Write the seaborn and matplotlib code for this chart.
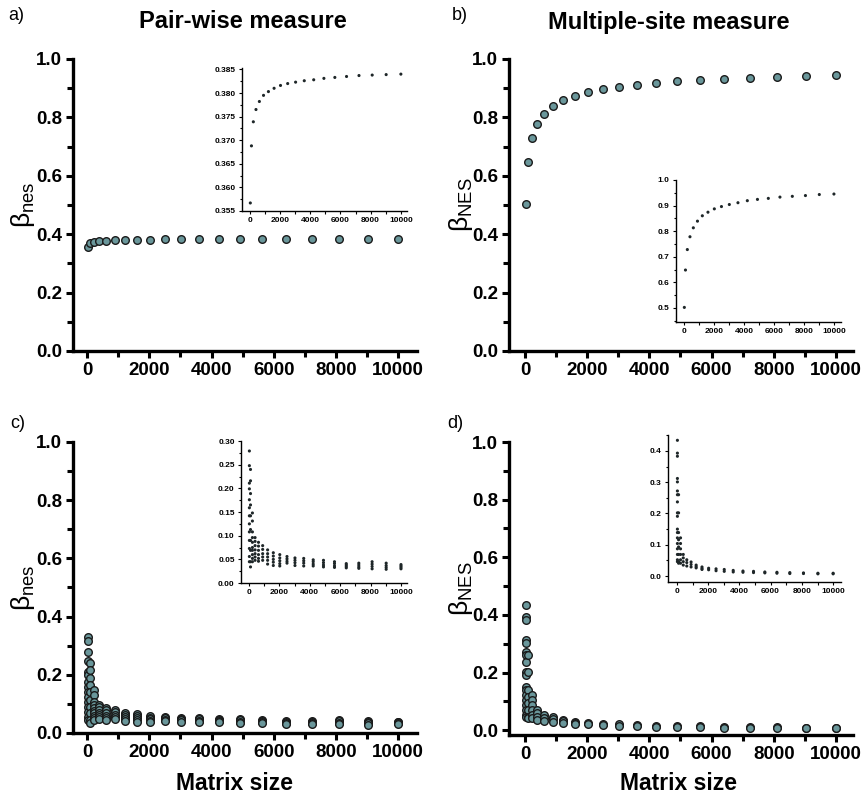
import matplotlib
matplotlib.use("Agg")
import matplotlib.pyplot as plt
from matplotlib.ticker import MultipleLocator
import pandas as pd
import seaborn as sns

# matrix sizes (n x n, n = 5..100)
sizes = [25, 100, 225, 400, 625, 900, 1225, 1600, 2025, 2500,
         3025, 3600, 4225, 4900, 5625, 6400, 7225, 8100, 9025, 10000]

# a) pair-wise, b) multiple-site  (nested matrices)
pair_nes = [0.3567, 0.3688, 0.3739, 0.3765, 0.3782, 0.3795, 0.3803, 0.3810,
            0.3816, 0.3820, 0.3823, 0.3826, 0.3828, 0.3831, 0.3833, 0.3835,
            0.3837, 0.3838, 0.3839, 0.3840]
multi_nes = [0.502, 0.648, 0.728, 0.778, 0.813, 0.839, 0.860, 0.874, 0.887,
             0.896, 0.904, 0.911, 0.919, 0.924, 0.928, 0.933, 0.936, 0.939,
             0.943, 0.945]

# c) pair-wise, d) multiple-site  (replicates per matrix size)
pair_reps = [
    [0.331, 0.317, 0.279, 0.248, 0.211, 0.199, 0.176, 0.159, 0.142, 0.125,
     0.108, 0.090, 0.073, 0.056, 0.045],
    [0.240, 0.216, 0.189, 0.165, 0.142, 0.113, 0.090, 0.069, 0.045, 0.034],
    [0.148, 0.131, 0.108, 0.096, 0.086, 0.075, 0.069, 0.060, 0.052, 0.045],
    [0.096, 0.088, 0.079, 0.070, 0.062, 0.055, 0.048],
    [0.086, 0.078, 0.069, 0.060, 0.052, 0.046],
    [0.079, 0.071, 0.062, 0.055, 0.048],
    [0.070, 0.062, 0.055, 0.048, 0.040],
    [0.064, 0.057, 0.050, 0.044, 0.037],
    [0.060, 0.053, 0.047, 0.041, 0.036],
    [0.056, 0.051, 0.046, 0.042],
    [0.053, 0.048, 0.043, 0.037],
    [0.052, 0.047, 0.042, 0.036],
    [0.049, 0.045, 0.040, 0.036],
    [0.048, 0.043, 0.038, 0.034],
    [0.045, 0.041, 0.036, 0.033],
    [0.041, 0.038, 0.035, 0.032],
    [0.042, 0.038, 0.034, 0.031],
    [0.045, 0.040, 0.035, 0.030],
    [0.042, 0.037, 0.033, 0.029],
    [0.039, 0.036, 0.033, 0.030],
]
multi_reps = [
    [0.434, 0.393, 0.383, 0.312, 0.301, 0.272, 0.260, 0.237, 0.202, 0.191,
     0.150, 0.139, 0.122, 0.104, 0.087, 0.069, 0.052, 0.046],
    [0.260, 0.202, 0.139, 0.116, 0.093, 0.069, 0.046, 0.041],
    [0.122, 0.104, 0.087, 0.069, 0.052, 0.041],
    [0.069, 0.058, 0.046, 0.035],
    [0.052, 0.043, 0.032],
    [0.045, 0.037, 0.029],
    [0.035, 0.030, 0.026],
    [0.029, 0.024, 0.021],
    [0.025, 0.020],
    [0.023, 0.017],
    [0.021, 0.015],
    [0.018, 0.013],
    [0.016, 0.012],
    [0.015, 0.011],
    [0.013, 0.010],
    [0.012, 0.009],
    [0.011, 0.008],
    [0.010, 0.008],
    [0.009, 0.007],
    [0.009, 0.007],
]

FILL = "#6a979b"


def long_table(values):
    rows = []
    for size, vals in zip(sizes, values):
        if isinstance(vals, list):
            rows += [(size, v) for v in vals]
        else:
            rows.append((size, vals))
    return pd.DataFrame(rows, columns=["size", "beta"])


def style_main(ax, ylim, xlim):
    ax.set(xlim=xlim, ylim=ylim, xlabel="", ylabel="")
    sns.despine(ax=ax)
    for s in ("left", "bottom"):
        ax.spines[s].set_linewidth(2.4)
    ax.set_xticks(range(0, 10001, 2000))
    ax.xaxis.set_minor_locator(MultipleLocator(1000))
    ax.set_yticks([0.0, 0.2, 0.4, 0.6, 0.8, 1.0])
    ax.yaxis.set_minor_locator(MultipleLocator(0.1))
    ax.set_yticklabels(["0.0", "0.2", "0.4", "0.6", "0.8", "1.0"])
    ax.tick_params(which="both", direction="out", width=2.2, labelsize=13.5, pad=3)
    ax.tick_params(which="major", length=5)
    ax.tick_params(which="minor", length=4)
    for lab in ax.get_xticklabels() + ax.get_yticklabels():
        lab.set_fontweight("bold")


def style_inset(ax, ylim, xlim, yticks, fmt, yminor):
    ax.set(xlim=xlim, ylim=ylim, xlabel="", ylabel="")
    sns.despine(ax=ax)
    for s in ("left", "bottom"):
        ax.spines[s].set_linewidth(1.0)
    ax.set_xticks(range(0, 10001, 2000))
    ax.xaxis.set_minor_locator(MultipleLocator(1000))
    ax.set_yticks(yticks)
    ax.set_yticklabels([fmt.format(t) for t in yticks])
    ax.yaxis.set_minor_locator(MultipleLocator(yminor))
    ax.tick_params(which="both", direction="out", width=0.8, labelsize=6, pad=2)
    ax.tick_params(which="major", length=2.5)
    ax.tick_params(which="minor", length=1.8)
    for lab in ax.get_xticklabels() + ax.get_yticklabels():
        lab.set_fontweight("bold")
    ax.patch.set_alpha(0)


def main():
    sns.set_style("ticks")
    plt.rcParams["font.family"] = ["Liberation Sans", "DejaVu Sans"]
    plt.rcParams["mathtext.default"] = "regular"
    plt.rcParams.update({
        "text.color": "black", "axes.labelcolor": "black",
        "axes.edgecolor": "black", "xtick.color": "black", "ytick.color": "black",
    })

    fig = plt.figure(figsize=(8.61, 7.98), dpi=100)

    panels = [
        (pair_nes, (0.0848, 0.5602, 0.3995, 0.3659), (-450, 10600), (0, 1.0),
         r"$\beta_{nes}$", -0.105,
         (0.281, 0.7356, 0.1916, 0.1792), (-530, 10400), (0.355, 0.3853),
         [0.355, 0.360, 0.365, 0.370, 0.375, 0.380, 0.385], "{:.3f}", 0.0025),
        (multi_nes, (0.5912, 0.5602, 0.3995, 0.3659), (-514, 10547), (0, 1.0),
         r"$\beta_{NES}$", -0.10,
         (0.7851, 0.5965, 0.1916, 0.1780), (-533, 10467), (0.445, 1.0),
         [0.5, 0.6, 0.7, 0.8, 0.9, 1.0], "{:.1f}", 0.05),
        (pair_reps, (0.0848, 0.0815, 0.3995, 0.3647), (-450, 10600), (0, 1.0),
         r"$\beta_{nes}$", -0.105,
         (0.2799, 0.2694, 0.1928, 0.1779), (-526, 10395), (0, 0.30),
         [0.00, 0.05, 0.10, 0.15, 0.20, 0.25, 0.30], "{:.2f}", 0.025),
        (multi_reps, (0.5912, 0.0789, 0.3995, 0.3672), (-514, 10547), (-0.017, 1.0),
         r"$\beta_{NES}$", -0.10,
         (0.7758, 0.2707, 0.2009, 0.1842), (-580, 10500), (-0.019, 0.451),
         [0.0, 0.1, 0.2, 0.3, 0.4], "{:.1f}", 0.05),
    ]

    for (vals, rect, xlim, ylim, ylab, labx,
         irect, ixlim, iylim, iticks, ifmt, iminor) in panels:
        df = long_table(vals)
        ax = fig.add_axes(rect)
        sns.scatterplot(data=df, x="size", y="beta", ax=ax, s=30,
                        color=FILL, edgecolor="#1a1a1a", linewidth=1.0,
                        zorder=3, clip_on=False)
        style_main(ax, ylim, xlim)
        ax.set_ylabel(ylab, fontsize=19)
        ax.yaxis.set_label_coords(labx, 0.5)

        ins = fig.add_axes(irect)
        sns.scatterplot(data=df, x="size", y="beta", ax=ins, s=5,
                        color="#1e2628", edgecolor="none", linewidth=0)
        style_inset(ins, iylim, ixlim, iticks, ifmt, iminor)

    fig.text(243 / 861, 1 - 22 / 798, "Pair-wise measure", ha="center", va="center",
             fontsize=17, fontweight="bold")
    fig.text(669 / 861, 1 - 22 / 798, "Multiple-site measure", ha="center", va="center",
             fontsize=17, fontweight="bold")
    for x, y, t in [(8, 15, "a)"), (452, 15, "b)"), (10, 424, "c)"), (447, 424, "d)")]:
        fig.text(x / 861, 1 - y / 798, t, ha="left", va="center", fontsize=13)
    for x in (235, 679):
        fig.text(x / 861, 1 - 783 / 798, "Matrix size", ha="center", va="center",
                 fontsize=16.5, fontweight="bold")

    fig.savefig("out.png", dpi=100)


if __name__ == "__main__":
    main()
